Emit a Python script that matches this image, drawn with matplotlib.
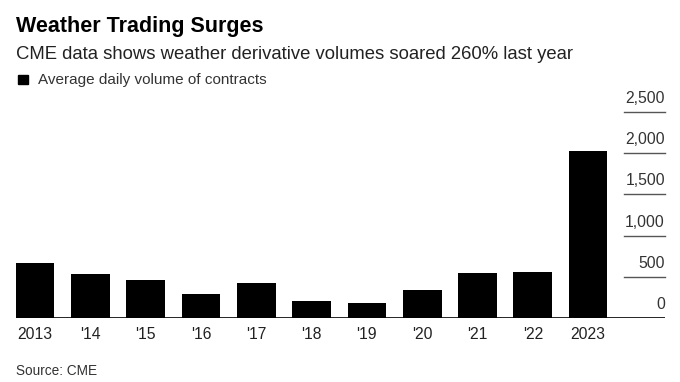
import matplotlib
matplotlib.use('Agg')
import matplotlib.pyplot as plt
import numpy as np

plt.rcParams['font.family'] = ['Liberation Sans', 'DejaVu Sans']

#-------data-------
years = ['2013', "'14", "'15", "'16", "'17", "'18", "'19", "'20", "'21", "'22", '2023']
volume = [667, 541, 464, 295, 432, 206, 182, 339, 545, 561, 2024]
yticks = [0, 500, 1000, 1500, 2000, 2500]
ytick_labels = ['0', '500', '1,000', '1,500', '2,000', '2,500']

#-------figure-------
fig = plt.figure(figsize=(6.8, 3.82), dpi=100)
ax = fig.add_axes([15.7/680, 1-318.3/382, (665-15.7)/680, (318.3-111.7)/382])

x = np.arange(len(years))
ax.bar(x, volume, width=0.7, color='black', zorder=3)

ax.set_xlim(-0.35, 11.39)
ax.set_ylim(0, 2500)

# short gridlines under the right-hand labels
grid_x0 = (624-15.7)/(665-15.7)
for v, lab in zip(yticks, ytick_labels):
    if v > 0:
        ax.plot([grid_x0, 1.0], [v, v], transform=ax.get_yaxis_transform(),
                color='#555555', lw=1.0, clip_on=False, zorder=2)
    ax.annotate(lab, xy=(1.0, v), xycoords=ax.get_yaxis_transform(),
                xytext=(0, 6.5), textcoords='offset points',
                ha='right', va='baseline', fontsize=11.3, color='#333333')

# baseline
ax.axhline(0, color='black', lw=1.2, zorder=4)

for s in ax.spines.values():
    s.set_visible(False)
ax.set_yticks([])
ax.set_xticks(x)
ax.set_xticklabels(years, fontsize=11.3, color='#222222')
ax.tick_params(axis='x', length=0, pad=6)

#-------text-------
fig.text(16/680, 1-31.7/382, 'Weather Trading Surges', fontsize=15.5,
         fontweight='bold', color='black', va='baseline', ha='left')
fig.text(16/680, 1-59/382, 'CME data shows weather derivative volumes soared 260% last year',
         fontsize=13.3, color='#222222', va='baseline', ha='left')
fig.patches.append(plt.Rectangle((18.3/680, 1-84.3/382), 10/680, 9.5/382,
                                 transform=fig.transFigure, color='black'))
fig.text(38.3/680, 1-84/382, 'Average daily volume of contracts',
         fontsize=11, color='#333333', va='baseline', ha='left')
fig.text(16/680, 1-375/382, 'Source: CME', fontsize=9.8, color='#333333',
         va='baseline', ha='left')

plt.savefig('out.png', dpi=100)
